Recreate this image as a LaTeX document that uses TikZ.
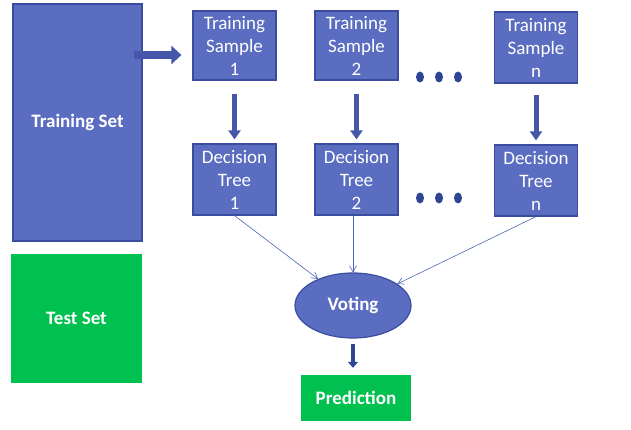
\documentclass[tikz,border=0pt]{standalone}
\usepackage{fontspec}
\setmainfont{Carlito}
\usetikzlibrary{arrows.meta,calc,positioning,shapes.geometric}
\definecolor{slate}{HTML}{5B6DC0}
\definecolor{slateedge}{HTML}{3A4C9E}
\definecolor{leaf}{HTML}{00C050}
\definecolor{navy}{HTML}{2E4593}
\definecolor{wire}{HTML}{4A64B8}

\begin{document}
\begin{tikzpicture}[x=1pt, y=-1pt,
  setbox/.style={rectangle, fill=slate, draw=slateedge, line width=1.2pt, inner sep=0pt, text=white, font=\fontsize{19}{22}\selectfont\bfseries},
  greenbox/.style={rectangle, fill=leaf, inner sep=0pt, text=white, font=\fontsize{19}{22}\selectfont\bfseries},
  stagebox/.style={rectangle, fill=slate, draw=slateedge, line width=1.2pt, inner sep=0pt, minimum width=83pt, text=white, align=center, font=\fontsize{19}{23}\selectfont},
  dot/.style={ellipse, fill=navy, minimum width=8pt, minimum height=11pt, inner sep=0pt},
  blockarrow/.style={-{Triangle[length=10pt, width=18pt]}, slateedge!65!slate, line width=8pt},
  droparrow/.style={-{Triangle[length=9pt, width=12pt]}, slateedge!65!slate, line width=5pt},
  thin/.style={-{Straight Barb[length=6pt, width=7pt]}, wire, line width=0.6pt}
]
  \useasboundingbox (0,0) rectangle (631,430);

  \node[setbox, minimum width=129pt, minimum height=237pt] (tset) at (77.5,122.5) {Training Set};
  \node[greenbox, minimum width=131pt, minimum height=129pt] (testset) at (76.5,318.5) {Test Set};

  \node[stagebox, minimum height=69pt] (samp1) at (234.5,45.5) {Training\\Sample\\1};
  \node[stagebox, minimum height=69pt] (samp2) at (356.5,45.5) {Training\\Sample\\2};
  \node[stagebox, minimum height=71pt] (sampn) at (536,47.5) {Training\\Sample\\n};

  \node[stagebox, minimum height=71pt] (tree1) at (234.5,179.5) {Decision\\Tree\\1};
  \node[stagebox, minimum height=71pt] (tree2) at (356.5,179.5) {Decision\\Tree\\2};
  \node[stagebox, minimum height=71pt] (treen) at (536,180.5) {Decision\\Tree\\n};

  \foreach \dx [count=\i] in {420,439,458} {
    \node[dot] (tdot\i) at (\dx,77) {};
    \node[dot] (bdot\i) at (\dx,198) {};
  }

  \node[ellipse, fill=slate, draw=slateedge, line width=1.2pt, minimum width=116pt, minimum height=65pt, inner sep=0pt, text=white, font=\fontsize{19}{22}\selectfont\bfseries] (voting) at (353,305.5) {Voting};
  \node[greenbox, minimum width=110pt, minimum height=46pt] (predict) at (356,398) {Prediction};

  % training set to first sample
  \coordinate (tsout) at (134,55);
  \draw[blockarrow, shorten >=11pt] (tsout) -- (tsout -| samp1.west);

  % samples to trees
  \draw[droparrow, shorten <=13pt, shorten >=4pt] (samp1.south) -- (tree1.north);
  \draw[droparrow, shorten <=13pt, shorten >=4pt] (samp2.south) -- (tree2.north);
  \draw[droparrow, shorten <=11pt, shorten >=4pt] (sampn.south) -- (treen.north);

  % trees to voting
  \draw[thin] (tree1.south) -- (voting);
  \draw[thin] (voting.north |- tree2.south) -- (voting.north);
  \draw[thin] (treen.south) -- (voting);

  \draw[-{Triangle[length=6pt, width=10pt]}, navy, line width=4pt, shorten <=5pt, shorten >=7pt] (voting.south) -- (voting.south |- predict.north);
\end{tikzpicture}
\end{document}
